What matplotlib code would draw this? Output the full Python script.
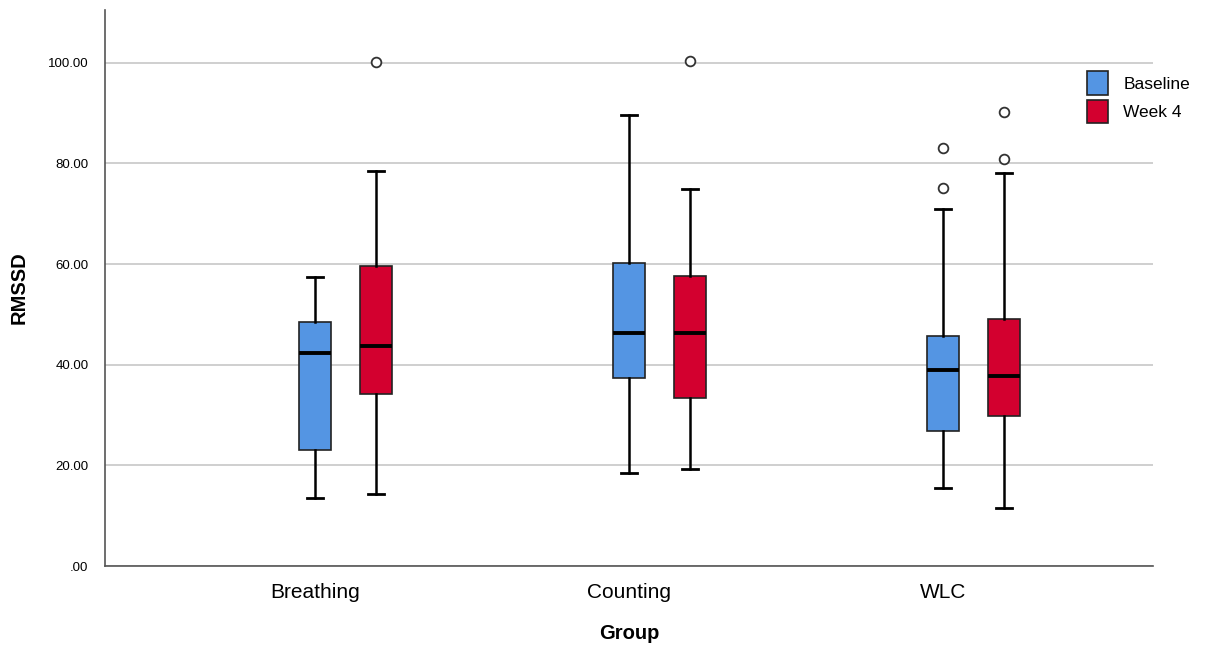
import numpy as np
import matplotlib.pyplot as plt
from matplotlib.patches import Patch

plt.rcParams['font.family'] = ['Liberation Sans', 'DejaVu Sans']

groups = ["Breathing", "Counting", "WLC"]
series = ["Baseline", "Week 4"]
colors = ["#5495E3", "#D3002F"]

# five-number summaries: low whisker, Q1, median, Q3, high whisker
baseline_low = [13.6, 18.5, 15.6]
baseline_q1 = [23.1, 37.4, 26.8]
baseline_med = [42.4, 46.4, 39.0]
baseline_q3 = [48.4, 60.3, 45.7]
baseline_high = [57.5, 89.7, 71.0]
baseline_out = [[], [], [83.0, 75.2]]

week4_low = [14.3, 19.2, 11.6]
week4_q1 = [34.2, 33.3, 29.8]
week4_med = [43.8, 46.4, 37.8]
week4_q3 = [59.6, 57.6, 49.1]
week4_high = [78.6, 74.9, 78.1]
week4_out = [[100.2], [100.3], [90.3, 80.8]]


def make_stats(low, q1, med, q3, high, out):
    return [dict(whislo=a, q1=b, med=c, q3=d, whishi=e, fliers=f)
            for a, b, c, d, e, f in zip(low, q1, med, q3, high, out)]


fig = plt.figure(figsize=(12.06, 6.46), dpi=100)
ax = fig.add_axes([0.0871, 0.1238, 0.956 - 0.0871, 0.9845 - 0.1238])

pos = np.arange(1, 4)
offset = 0.194
width = 0.102

all_stats = [
    make_stats(baseline_low, baseline_q1, baseline_med, baseline_q3, baseline_high, baseline_out),
    make_stats(week4_low, week4_q1, week4_med, week4_q3, week4_high, week4_out),
]

for i, st in enumerate(all_stats):
    ax.bxp(st, positions=pos + i * offset, widths=width, patch_artist=True,
           showfliers=True, capwidths=width * 0.5,
           boxprops=dict(facecolor=colors[i], edgecolor="#222222", linewidth=1.2),
           medianprops=dict(color="black", linewidth=2.8),
           whiskerprops=dict(color="black", linewidth=1.8),
           capprops=dict(color="black", linewidth=2),
           flierprops=dict(marker="o", markersize=7, markerfacecolor="white",
                           markeredgecolor="#333333", markeredgewidth=1.3))

ax.set_xlim(1 - 210 / 314, 3 + 210 / 314)
ax.set_ylim(0, 110.5)
ax.set_yticks([0, 20, 40, 60, 80, 100])
ax.set_yticklabels([".00", "20.00", "40.00", "60.00", "80.00", "100.00"], fontsize=9.5)
ax.set_xticks(pos)
ax.set_xticklabels(groups, fontsize=15)
ax.tick_params(axis="y", length=0, pad=12)
ax.tick_params(axis="x", length=0, pad=12)

ax.yaxis.grid(True, color="#CCCCCC", linewidth=1.3)
ax.set_axisbelow(True)
for s in ["top", "right"]:
    ax.spines[s].set_visible(False)
for s in ["left", "bottom"]:
    ax.spines[s].set_color("#555555")
    ax.spines[s].set_linewidth(1.2)

ax.set_ylabel("RMSSD", fontsize=14.5, fontweight="bold", labelpad=14)
ax.set_xlabel("Group", fontsize=14.5, fontweight="bold", labelpad=16)

handles = [Patch(facecolor=c, edgecolor="#222222", linewidth=1.2) for c in colors]
ax.legend(handles, series, loc="upper left", bbox_to_anchor=(0.937, 0.89),
          frameon=False, fontsize=12.5, handlelength=1.2, handleheight=1.7,
          handletextpad=0.9, labelspacing=0.3, borderaxespad=0, borderpad=0)

fig.savefig("out.png", dpi=100)
